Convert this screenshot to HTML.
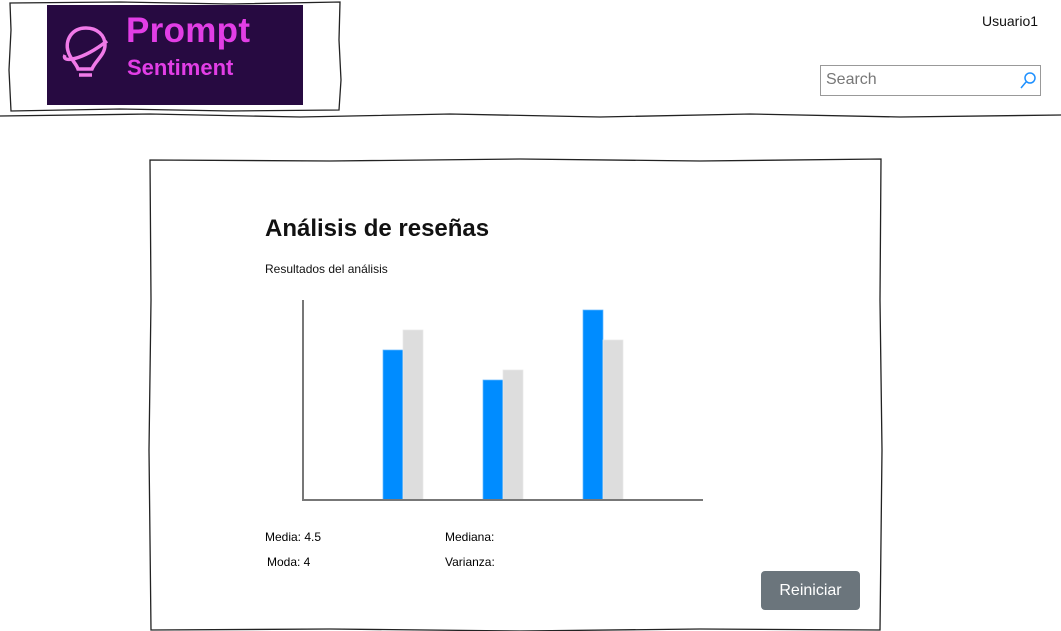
<!DOCTYPE html>
<html><head><meta charset="utf-8"><style>
body{margin:0;width:1061px;height:631px;background:#fff;position:relative;overflow:hidden;font-family:"Liberation Sans",sans-serif}
.abs{position:absolute}
</style></head><body>
<svg class="abs" style="left:0;top:0" width="1061" height="631">
<path d="M10 3 L120 2 L230 4 L340 2 L339 40 L341 80 L339 110 L230 111 L120 109 L11 111 L9 70 L11 30 Z" fill="none" stroke="#222" stroke-width="1.3"/>
<path d="M0 116 L150 114 L300 117 L450 114 L600 117 L750 114 L900 117 L1061 115" fill="none" stroke="#222" stroke-width="1.3"/>
<path d="M150 160 L330 161 L520 159 L700 161 L881 159 L880 300 L882 450 L880 630 L700 629 L520 631 L330 629 L151 630 L149 450 L151 300 Z" fill="none" stroke="#222" stroke-width="1.3"/>
</svg>
<div class="abs" style="left:47px;top:5px;width:256px;height:100px;background:#270a41">
<svg class="abs" style="left:14px;top:18px" width="50" height="62">
<path d="M25 5 C10 5 4 18 7 28 C9 36 15 40 17 46 L31 46 C34 38 44 32 44 22 C44 12 36 5 25 5 Z" fill="none" stroke="#f07ae8" stroke-width="3.5"/>
<path d="M4 32 C0 40 20 38 46 18" fill="none" stroke="#f07ae8" stroke-width="3.5"/>
<path d="M18 52 L31 52" stroke="#f07ae8" stroke-width="3.5"/>
</svg>
<div class="abs" style="left:79px;top:6px;color:#e23ee6;font-size:35px;font-weight:bold;letter-spacing:0.3px">Prompt</div>
<div class="abs" style="left:80px;top:50px;color:#e23ee6;font-size:22px;font-weight:bold">Sentiment</div>
</div>
<div class="abs" style="left:982px;top:13px;font-size:14px;color:#111">Usuario1</div>
<div class="abs" style="left:820px;top:65px;width:219px;height:29px;border:1px solid #999;box-sizing:content-box">
<span class="abs" style="left:5px;top:5px;font-size:16px;color:#777">Search</span>
<svg class="abs" style="left:198px;top:5px" width="18" height="20"><circle cx="11" cy="7" r="5" fill="none" stroke="#1e90ff" stroke-width="1.5"/><line x1="7" y1="11" x2="2" y2="17" stroke="#1e90ff" stroke-width="1.5"/></svg>
</div>
<div class="abs" style="left:265px;top:215px;font-size:24px;font-weight:bold;color:#111">Análisis de reseñas</div>
<div class="abs" style="left:265px;top:262px;font-size:12px;color:#111">Resultados del análisis</div>
<svg class="abs" id="chart" style="left:0;top:0" width="1061" height="631"></svg>
<div class="abs" style="left:265px;top:530px;font-size:12px">Media: 4.5</div>
<div class="abs" style="left:445px;top:530px;font-size:12px">Mediana:</div>
<div class="abs" style="left:267px;top:555px;font-size:12px">Moda: 4</div>
<div class="abs" style="left:445px;top:555px;font-size:12px">Varianza:</div>
<div class="abs" style="left:761px;top:571px;width:99px;height:39px;background:#6b757c;border-radius:4px;color:#fff;font-size:16px;line-height:39px;text-align:center">Reiniciar</div>
<script>
const categories=['A','B','C'];
const seriesBlue=[7.5,6,9.5];
const seriesGray=[8.5,6.5,8];
const svg=document.getElementById('chart');
const NS='http://www.w3.org/2000/svg';
const x0=303,y0=500,h=200,w=400;
function yScale(v){return y0-v/10*h;}
function xCenter(i){return x0+100+i*100;}
function mk(t,a){const e=document.createElementNS(NS,t);for(const k in a)e.setAttribute(k,a[k]);svg.appendChild(e);return e;}
categories.forEach((c,i)=>{
 const cx=xCenter(i);
 const b=mk('rect',{x:cx-20,y:yScale(seriesBlue[i]),width:20,height:y0-yScale(seriesBlue[i]),fill:'#008cff',stroke:'#66b8ff','stroke-width':0.7});
 
 
 const g=mk('rect',{x:cx,y:yScale(seriesGray[i]),width:20,height:y0-yScale(seriesGray[i]),fill:'#dddddd',stroke:'#e8e8e8','stroke-width':0.7});
 
 
});
const ya=mk('line',{x1:x0,y1:y0-h,x2:x0,y2:y0+1,stroke:'#777','stroke-width':2});


const xa=mk('line',{x1:x0,y1:y0,x2:x0+w,y2:y0,stroke:'#777','stroke-width':2});


</script>
</body></html>
